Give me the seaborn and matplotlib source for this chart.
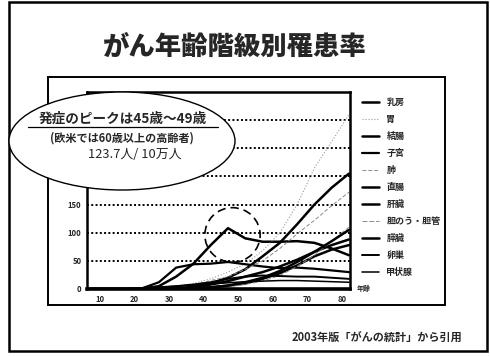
import matplotlib
matplotlib.use("Agg")
import matplotlib.pyplot as plt
import matplotlib.patches as mpatches
import pandas as pd
import seaborn as sns

# 年齢階級（5歳階級の中央値）
ages = [7, 12, 17, 22, 27, 32, 37, 42, 47, 52, 57, 62, 67, 72, 77, 82]

# 部位別 罹患率（人口10万人あたり）
breast = [0, 0, 0, 0.5, 5, 22, 45, 78, 108, 90, 84, 84, 85, 82, 72, 60]
stomach = [0, 0, 0, 0, 2, 5, 10, 18, 30, 45, 68, 100, 150, 215, 262, 310]
colon = [0, 0, 0, 0, 1, 2, 5, 10, 20, 35, 58, 82, 115, 150, 180, 205]
uterus = [0, 0, 0, 1, 12, 38, 44, 45, 48, 44, 40, 37, 38, 36, 33, 30]
lung = [0, 0, 0, 0, 1, 3, 7, 15, 22, 35, 50, 72, 98, 122, 148, 172]
rectum = [0, 0, 0, 0, 0, 1, 3, 8, 14, 22, 30, 40, 52, 66, 78, 88]
liver = [0, 0, 0, 0, 0, 1, 2, 3, 6, 10, 18, 28, 42, 58, 70, 78]
gallbladder = [0, 0, 0, 0, 0, 0, 1, 2, 4, 8, 14, 24, 40, 60, 85, 110]
pancreas = [0, 0, 0, 0, 0, 0, 1, 3, 6, 12, 20, 32, 48, 66, 85, 105]
ovary = [0, 0, 0, 1, 3, 5, 8, 12, 18, 22, 24, 23, 22, 22, 20, 18]
thyroid = [0, 0, 0, 1, 3, 5, 7, 9, 11, 13, 14, 15, 15, 14, 13, 12]

sites = ["乳房", "胃", "結腸", "子宮", "肺", "直腸", "肝臓",
         "胆のう・胆管", "膵臓", "卵巣", "甲状腺"]
values = [breast, stomach, colon, uterus, lung, rectum, liver,
          gallbladder, pancreas, ovary, thyroid]

# 線のスタイル（色, 太さ, 線種）
styles = {
    "乳房": ("black", 1.8, "-"),
    "胃": ("#9a9a9a", 0.8, ":"),
    "結腸": ("black", 1.8, "-"),
    "子宮": ("black", 1.6, "-"),
    "肺": ("#8a8a8a", 0.7, (0, (4, 2))),
    "直腸": ("black", 1.8, "-"),
    "肝臓": ("black", 1.8, "-"),
    "胆のう・胆管": ("#8a8a8a", 0.7, (0, (5, 2))),
    "膵臓": ("black", 1.8, "-"),
    "卵巣": ("black", 1.4, "-"),
    "甲状腺": ("black", 1.1, "-"),
}

df = pd.DataFrame(
    [(a, s, v) for s, vals in zip(sites, values) for a, v in zip(ages, vals)],
    columns=["年齢", "部位", "罹患率"],
)

sns.set_style("white")
plt.rcParams["font.family"] = ["Noto Sans CJK JP", "DejaVu Sans"]

W, H = 490, 357
fig = plt.figure(figsize=(4.9, 3.57), dpi=100)
ax = fig.add_axes([87 / W, 1 - 289 / H, (350 - 87) / W, (289 - 92) / H])

for s in sites:
    c, lw, ls = styles[s]
    sns.lineplot(data=df[df["部位"] == s], x="年齢", y="罹患率", ax=ax,
                 color=c, linewidth=lw, linestyle=ls, label=s)

ax.set_xlim(6.2, 82.3)
ax.set_ylim(0, 350)
ax.set_xticks(range(10, 81, 10))
# 200以上の目盛ラベルは吹き出しに隠れている
ax.set_yticks([0, 50, 100, 150])
for y in range(50, 301, 50):
    ax.axhline(y, color="black", linestyle=(0, (1, 1.2)), linewidth=1.4, zorder=0)
ax.tick_params(length=0, labelsize=5.5, pad=4)
for t in ax.get_xticklabels() + ax.get_yticklabels():
    t.set_fontweight("bold")
ax.set_xlabel("")
ax.set_ylabel("")
for side, lw in [("left", 1.8), ("bottom", 2.6), ("right", 1.8), ("top", 1.8)]:
    ax.spines[side].set_color("black")
    ax.spines[side].set_linewidth(lw)
ax.text(1.025, 0.0, "年齢", transform=ax.transAxes, fontsize=5,
        fontweight="bold", va="center", ha="left")

# ピークを示す破線の円
ax.add_patch(mpatches.Ellipse((48.3, 96), 16, 97, fill=False, edgecolor="black",
                              linestyle=(0, (5, 3)), linewidth=1.2, zorder=5))

leg = ax.legend(loc="upper left", bbox_to_anchor=(362 / W, 1 - 98 / H),
                bbox_transform=fig.transFigure, frameon=False, fontsize=6.5,
                handlelength=1.9, handletextpad=0.8, labelspacing=0.88,
                borderpad=0, borderaxespad=0)
for t in leg.get_texts():
    t.set_fontweight("bold")

# 枠
fig.add_artist(mpatches.Rectangle((9 / W, 1 - 351 / H), (487 - 9) / W, (351 - 2) / H,
                                  transform=fig.transFigure, fill=False,
                                  edgecolor="black", linewidth=1.8))
fig.add_artist(mpatches.Rectangle((48 / W, 1 - 305 / H), (445 - 48) / W, (305 - 77) / H,
                                  transform=fig.transFigure, fill=False,
                                  edgecolor="black", linewidth=1.4))

# 吹き出し
fig.add_artist(mpatches.Ellipse((122 / W, 1 - 141 / H), 226 / W, 98 / H,
                                transform=fig.transFigure, facecolor="white",
                                edgecolor="black", linewidth=1.0, zorder=4))
fig.text(123 / W, 1 - 119 / H, "発症のピークは45歳～49歳", fontsize=9.8,
         fontweight="bold", ha="center", va="center", zorder=6)
fig.add_artist(plt.Line2D([28 / W, 218 / W], [1 - 127 / H, 1 - 127 / H],
                          transform=fig.transFigure, color="black",
                          linewidth=0.9, zorder=6))
fig.text(122 / W, 1 - 138 / H, "(欧米では60歳以上の高齢者)", fontsize=8,
         fontweight="bold", ha="center", va="center", zorder=6)
fig.text(135 / W, 1 - 154 / H, "123.7人/ 10万人", fontsize=9.3,
         ha="center", va="center", zorder=6)

fig.text(235 / W, 1 - 47 / H, "がん年齢階級別罹患率", fontsize=19,
         fontweight="heavy", ha="center", va="center")
fig.text(377 / W, 1 - 338 / H, "2003年版「がんの統計」から引用", fontsize=8,
         fontweight="bold", ha="center", va="center")

fig.savefig("out.png", dpi=100, facecolor="white")
